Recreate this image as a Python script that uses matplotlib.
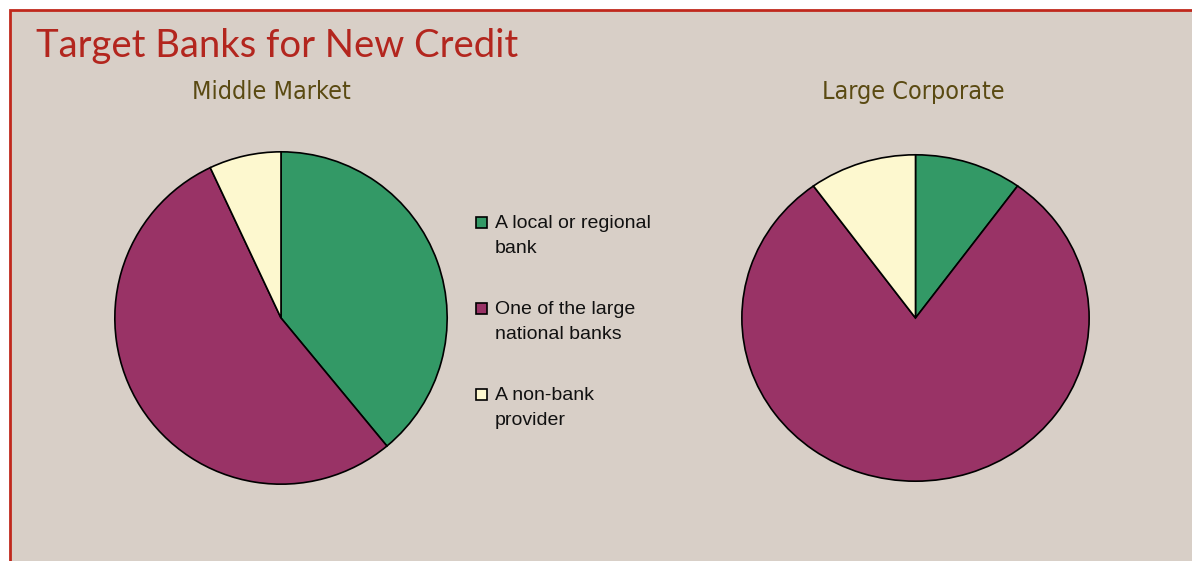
import matplotlib
import matplotlib.pyplot as plt
from matplotlib.patches import Rectangle

matplotlib.use('Agg')

# Данные
categories = ['A local or regional\nbank', 'One of the large\nnational banks', 'A non-bank\nprovider']
middle_market = [39, 54, 7]
large_corporate = [10, 80, 10]
colors = ['#339966', '#993366', '#fdf8cf']

W, H = 1192, 561
BG = '#d8cfc7'


def fx(px):
    return px / W


def fy(py):
    return 1 - py / H


def draw_pie(rect, values):
    x0, y0, x1, y1 = rect
    ax = fig.add_axes([fx(x0), fy(y1), fx(x1 - x0), (y1 - y0) / H])
    ax.pie(values, colors=colors, startangle=90, counterclock=False, radius=1,
           wedgeprops=dict(edgecolor='black', linewidth=1.2))
    ax.set_aspect('auto')
    ax.set_xlim(-1.005, 1.005)
    ax.set_ylim(-1.005, 1.005)
    ax.axis('off')
    return ax


fig = plt.figure(figsize=(W / 100, H / 100), dpi=100, facecolor='white')

# фон панели с красной рамкой
fig.add_artist(Rectangle((fx(10), -0.1), 1.2, fy(10) + 0.1, transform=fig.transFigure,
                         facecolor=BG, edgecolor='#c0281c', linewidth=2, zorder=-10))

fig.text(fx(36), fy(57), 'Target Banks for New Credit', color='#b3261e',
         fontsize=27.5, family='Lato', va='baseline')

sub_kw = dict(color='#5a4a12', fontsize=18, family='DejaVu Sans', fontstretch='condensed',
              ha='center', va='baseline')
fig.text(fx(271), fy(99), 'Middle Market', **sub_kw)
fig.text(fx(913), fy(99), 'Large Corporate', **sub_kw)

draw_pie((114, 151, 448, 485), middle_market)
draw_pie((741, 154, 1090, 482), large_corporate)

# легенда
for i, (label, color) in enumerate(zip(categories, colors)):
    top = 216 + 86 * i
    fig.add_artist(Rectangle((fx(476), fy(top + 12)), fx(11), 11 / H, transform=fig.transFigure,
                             facecolor=color, edgecolor='black', linewidth=1.2))
    fig.text(fx(495), fy(top - 1), label, fontsize=14, family='Liberation Sans',
             color='#111111', va='top', linespacing=1.6)

fig.savefig('out.png', dpi=100, facecolor='white')
